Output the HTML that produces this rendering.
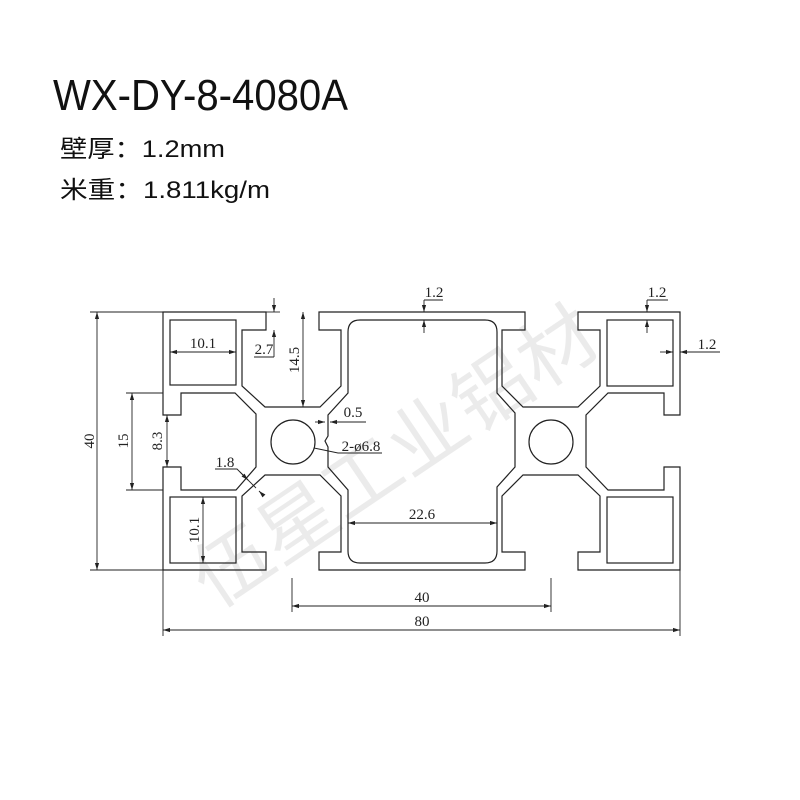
<!DOCTYPE html>
<html><head><meta charset="utf-8"><style>
html,body{margin:0;padding:0;background:#fff;width:800px;height:800px;overflow:hidden}
svg text{font-family:"Liberation Serif","Noto Serif CJK SC",serif}
</style></head><body>
<svg width="800" height="800" viewBox="0 0 800 800" xmlns="http://www.w3.org/2000/svg">
<defs>
<marker id="a" viewBox="0 0 10 10" refX="10" refY="5" markerWidth="9" markerHeight="7" orient="auto-start-reverse" markerUnits="userSpaceOnUse"><path d="M0,2 L10,5 L0,8 z" fill="#222"/></marker>
</defs>
<text x="53" y="110" font-size="44" textLength="295" lengthAdjust="spacingAndGlyphs" style="font-family:'Liberation Sans','Noto Sans CJK SC',sans-serif" fill="#111">WX-DY-8-4080A</text>
<text x="60" y="157" font-size="24" textLength="165" lengthAdjust="spacingAndGlyphs" style="font-family:'Liberation Sans','Noto Sans CJK SC',sans-serif" fill="#111">壁厚：1.2mm</text>
<text x="60" y="198" font-size="24" textLength="210" lengthAdjust="spacingAndGlyphs" style="font-family:'Liberation Sans','Noto Sans CJK SC',sans-serif" fill="#111">米重：1.811kg/m</text>

<text x="0" y="0" font-size="76" fill="#000" fill-opacity="0.08" transform="translate(215,610) rotate(-34)" textLength="470" lengthAdjust="spacingAndGlyphs" style="font-family:'Noto Sans CJK SC',sans-serif">伍星工业铝材</text>

<g fill="none" stroke="#222" stroke-width="1.2">
<path d="M163,415 L181,415 L181,393 L235,393 L256,414 L256,467 L236,490 L181,490 L181,467 L163,467 L163,570 L266,570 L266,552 L242,552 L242,496 L265,475 L320,475 L341,496 L341,552 L319,552 L319,570 L525,570 L525,552 L502,552 L502,496 L523,475 L578,475 L600,496 L600,552 L578,552 L578,570 L680,570 L680,467 L664,467 L664,490 L608,490 L586,467 L586,415 L608,393 L664,393 L664,415 L680,415 L680,312 L578,312 L578,330 L600,330 L600,386 L578,407 L523,407 L502,386 L502,330 L525,330 L525,312 L319,312 L319,330 L341,330 L341,386 L320,407 L265,407 L242,386 L242,330 L266,330 L266,312 L163,312 Z"/>
<path d="M360,320 L485,320 Q497,320 497,332 L497,393 L515,413 L515,467 L497,487 L497,551 Q497,563 485,563 L360,563 Q348,563 348,551 L348,490 L328,467 L328,447 L325,441 L328,436 L328,415 L348,393 L348,332 Q348,320 360,320 Z"/>
<rect x="170" y="320" width="66" height="65"/>
<rect x="170" y="497" width="66" height="66"/>
<rect x="607" y="320" width="66" height="66"/>
<rect x="607" y="497" width="66" height="66"/>
<circle cx="293" cy="442" r="22"/>
<circle cx="551" cy="442" r="22"/>
</g>

<g stroke="#222" stroke-width="0.9" fill="none">
<line x1="90" y1="312" x2="163" y2="312"/><line x1="90" y1="570" x2="163" y2="570"/>
<line x1="97" y1="312" x2="97" y2="570" marker-start="url(#a)" marker-end="url(#a)"/>
<line x1="126" y1="393" x2="163" y2="393"/><line x1="126" y1="490" x2="163" y2="490"/>
<line x1="132" y1="393" x2="132" y2="490" marker-start="url(#a)" marker-end="url(#a)"/>
<line x1="167" y1="415" x2="167" y2="467" marker-start="url(#a)" marker-end="url(#a)"/>
<line x1="170" y1="352" x2="236" y2="352" marker-start="url(#a)" marker-end="url(#a)"/>
<line x1="203" y1="497" x2="203" y2="563" marker-start="url(#a)" marker-end="url(#a)"/>
<line x1="266" y1="312" x2="280" y2="312"/>
<line x1="274" y1="298" x2="274" y2="312" marker-end="url(#a)"/>
<line x1="274" y1="357" x2="274" y2="330" marker-end="url(#a)"/>
<line x1="254" y1="357" x2="274" y2="357"/>
<line x1="303" y1="312" x2="303" y2="407" marker-start="url(#a)" marker-end="url(#a)"/>
<line x1="315" y1="422" x2="325" y2="422" marker-end="url(#a)"/>
<line x1="366" y1="422" x2="330" y2="422" marker-end="url(#a)"/>
<polyline points="314,448 338,453 382,453"/>
<polyline points="215,469 237,469 248,480"/>
<line x1="244" y1="476" x2="256" y2="488"/>
<line x1="263" y1="495" x2="259" y2="491" marker-end="url(#a)"/>
<line x1="240" y1="472" x2="248" y2="480" marker-end="url(#a)"/>
<line x1="348" y1="523" x2="497" y2="523" marker-start="url(#a)" marker-end="url(#a)"/>
<line x1="292" y1="578" x2="292" y2="612"/><line x1="551" y1="578" x2="551" y2="612"/>
<line x1="292" y1="606" x2="551" y2="606" marker-start="url(#a)" marker-end="url(#a)"/>
<line x1="163" y1="570" x2="163" y2="636"/><line x1="680" y1="570" x2="680" y2="636"/>
<line x1="163" y1="630" x2="680" y2="630" marker-start="url(#a)" marker-end="url(#a)"/>
<line x1="424" y1="300" x2="424" y2="312" marker-end="url(#a)"/>
<line x1="424" y1="333" x2="424" y2="320" marker-end="url(#a)"/>
<line x1="424" y1="300" x2="443" y2="300"/>
<line x1="647" y1="300" x2="647" y2="312" marker-end="url(#a)"/>
<line x1="647" y1="333" x2="647" y2="320" marker-end="url(#a)"/>
<line x1="647" y1="300" x2="668" y2="300"/>
<line x1="660" y1="352" x2="673" y2="352" marker-end="url(#a)"/>
<line x1="720" y1="352" x2="680" y2="352" marker-end="url(#a)"/>
</g>

<g font-size="15" fill="#222">
<text x="0" y="0" transform="translate(94,441) rotate(-90)" text-anchor="middle">40</text>
<text x="0" y="0" transform="translate(128,441) rotate(-90)" text-anchor="middle">15</text>
<text x="0" y="0" transform="translate(162,441) rotate(-90)" text-anchor="middle">8.3</text>
<text x="203" y="348" text-anchor="middle">10.1</text>
<text x="0" y="0" transform="translate(199,530) rotate(-90)" text-anchor="middle">10.1</text>
<text x="264" y="354" text-anchor="middle">2.7</text>
<text x="0" y="0" transform="translate(299,360) rotate(-90)" text-anchor="middle">14.5</text>
<text x="353" y="417" text-anchor="middle">0.5</text>
<text x="361" y="451" text-anchor="middle">2-ø6.8</text>
<text x="225" y="467" text-anchor="middle">1.8</text>
<text x="422" y="519" text-anchor="middle">22.6</text>
<text x="422" y="602" text-anchor="middle">40</text>
<text x="422" y="626" text-anchor="middle">80</text>
<text x="434" y="297" text-anchor="middle">1.2</text>
<text x="657" y="297" text-anchor="middle">1.2</text>
<text x="707" y="349" text-anchor="middle">1.2</text>
</g>
</svg>
</body></html>
